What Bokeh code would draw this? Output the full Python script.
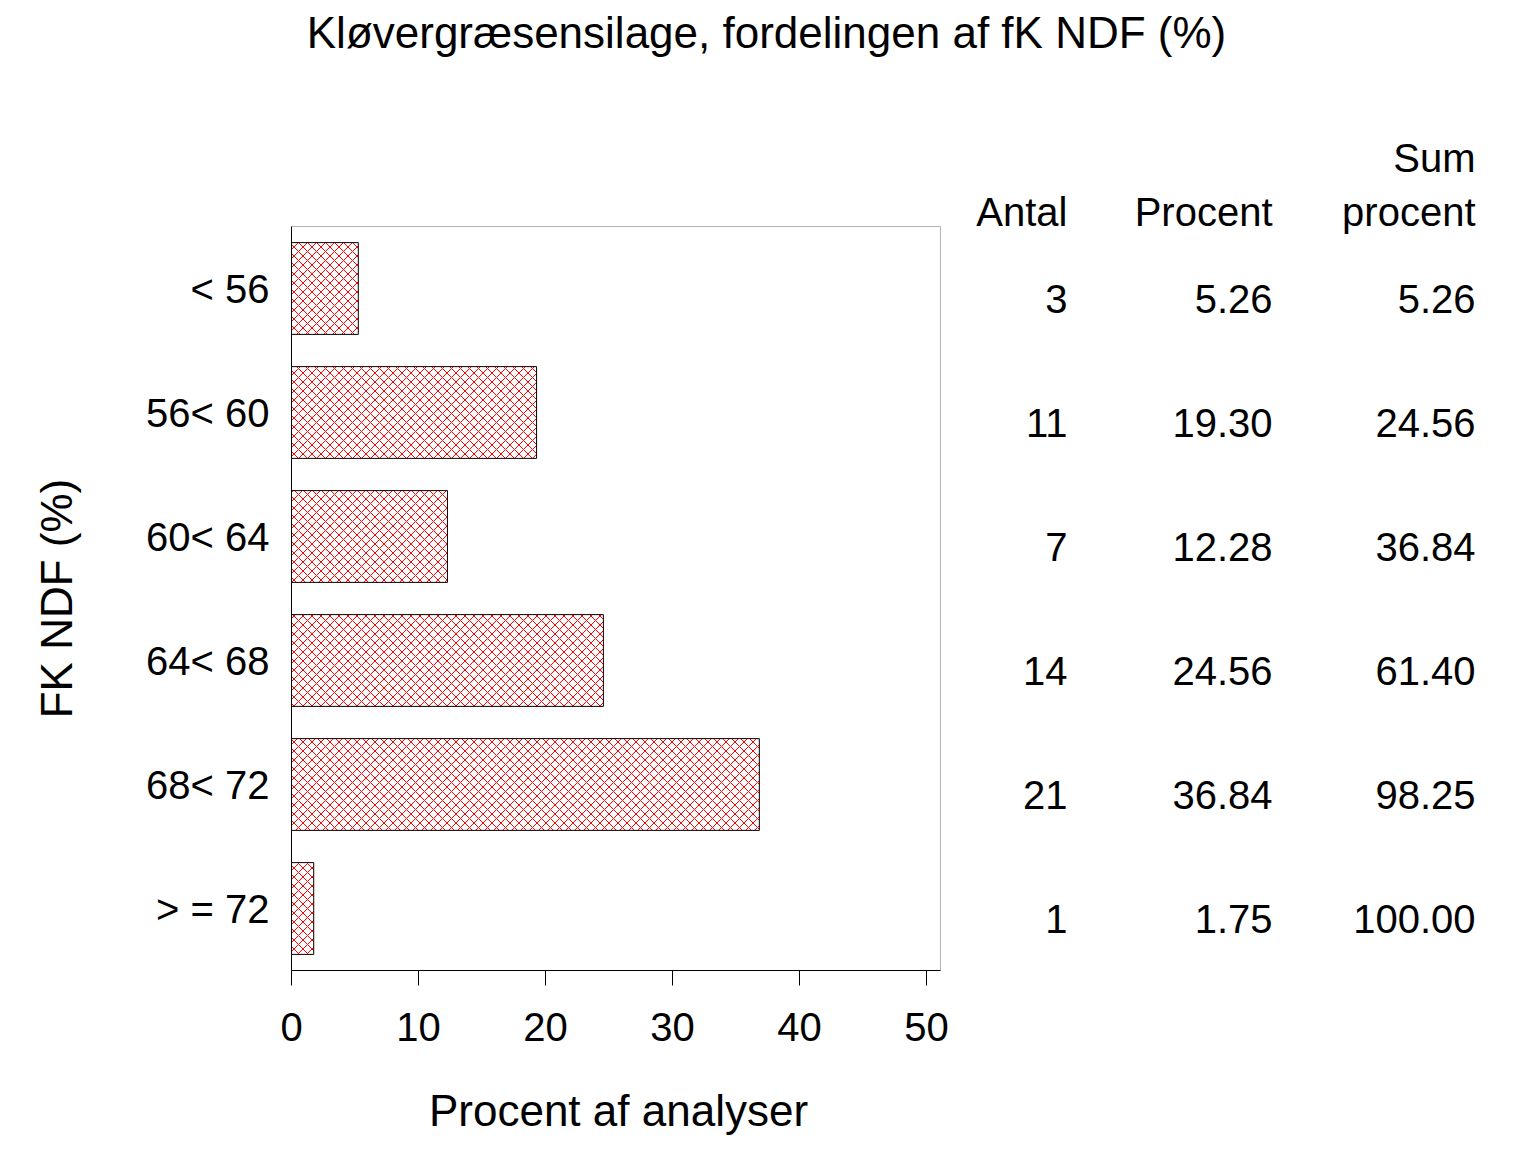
import math
from bokeh.plotting import figure
from bokeh.layouts import row, column
from bokeh.models import Range1d, FixedTicker, BoxAnnotation
from bokeh.embed import file_html
from bokeh.resources import INLINE
from bokeh.core.properties import value

# ---------------- data ----------------
categories = ["< 56", "56< 60", "60< 64", "64< 68", "68< 72", "> = 72"]
antal = [3, 11, 7, 14, 21, 1]
procent = [5.26, 19.30, 12.28, 24.56, 36.84, 1.75]
sum_procent = [5.26, 24.56, 36.84, 61.40, 98.25, 100.00]
x_ticks = [0, 10, 20, 30, 40, 50]
title_text = "Kløvergræsensilage, fordelingen af fK NDF (%)"
x_label = "Procent af analyser"
y_label = "FK NDF (%)"
col_headers = ["Antal", "Procent", "procent"]
col_headers_top = ["", "", "Sum"]

FONT = "Liberation Sans"
BAND_PX = 124.0
FRAME_H = 872
X_BOX_END = 51.1

n = len(categories)
row_pos = [n - 0.5 - i for i in range(n)]   # category band centres (top to bottom)

# ---------------- title strip ----------------
tf = figure(width=1536, height=98, x_range=Range1d(0, 1536), y_range=Range1d(98, 0),
            x_axis_location=None, y_axis_location=None, toolbar_location=None,
            output_backend="svg", min_border=0)
tf.outline_line_color = None
tf.grid.visible = False
tf.text(x=[766], y=[32], text=[title_text], text_font=value(FONT),
        text_font_size="44px", text_align="center", text_baseline="alphabetic",
        text_color="black")

yr = Range1d(0, FRAME_H / BAND_PX)

# ---------------- y-axis title strip ----------------
LF_W = 100
lf = figure(width=LF_W, height=1050, x_range=Range1d(0, LF_W), y_range=yr,
            x_axis_location=None, y_axis_location=None, toolbar_location=None,
            output_backend="svg", min_border_left=0, min_border_right=0,
            min_border_top=0, min_border_bottom=178)
lf.outline_line_color = None
lf.grid.visible = False
lf.text(x=[56], y=[n / 2], text=[y_label], angle=math.pi / 2,
        text_font=value(FONT), text_font_size="44px", text_align="center",
        text_baseline="middle", text_color="black")

# ---------------- bar chart ----------------
p = figure(width=950 - LF_W, height=1050, y_range=yr, x_range=Range1d(0, 51.5),
           toolbar_location=None, output_backend="svg",
           min_border_left=291 - LF_W, min_border_right=5, min_border_top=0,
           min_border_bottom=178)
p.outline_line_color = None
p.grid.visible = False

p.hbar(y=row_pos, right=procent, left=0, height=0.74, fill_color="white",
       line_color="black", line_width=1, hatch_pattern="x", hatch_color="red",
       hatch_scale=9, hatch_weight=1)

p.add_layout(BoxAnnotation(left=0, right=X_BOX_END, bottom=0, top=n,
                           fill_color=None, fill_alpha=0, line_color="black",
                           line_width=1, level="overlay"))

p.xaxis.ticker = FixedTicker(ticks=x_ticks)
p.xaxis.minor_tick_line_color = None
p.xaxis.major_tick_out = 15
p.xaxis.major_tick_in = 0
p.xaxis.major_tick_line_color = "black"
p.xaxis.axis_line_color = "black"
p.xaxis.bounds = (0, X_BOX_END)
p.xaxis.major_label_standoff = 27
p.xaxis.axis_label = x_label
p.xaxis.axis_label_standoff = 42
p.xaxis.axis_label_text_font = FONT
p.xaxis.axis_label_text_font_size = "44px"
p.xaxis.axis_label_text_font_style = "normal"
p.xaxis.axis_label_text_color = "black"

p.yaxis.ticker = FixedTicker(ticks=row_pos)
p.yaxis.major_label_overrides = {pos: lab for pos, lab in zip(row_pos, categories)}
p.yaxis.minor_tick_line_color = None
p.yaxis.major_tick_out = 0
p.yaxis.major_tick_in = 0
p.yaxis.axis_line_color = "black"
p.yaxis.bounds = (0, n)
p.yaxis.major_label_standoff = 22

for ax in (p.xaxis[0], p.yaxis[0]):
    ax.major_label_text_font = FONT
    ax.major_label_text_font_size = "40px"
    ax.major_label_text_color = "black"

# ---------------- table ----------------
t = figure(width=586, height=1050, x_range=Range1d(950, 1536), y_range=yr,
           x_axis_location=None, y_axis_location=None, toolbar_location=None,
           output_backend="svg", min_border_left=0, min_border_right=0,
           min_border_top=0, min_border_bottom=178)
t.outline_line_color = None
t.grid.visible = False

col_right = [1067, 1272, 1475]
columns = [[str(a) for a in antal],
           [f"{v:.2f}" for v in procent],
           [f"{v:.2f}" for v in sum_procent]]
VAL_OFF = 10
for xr, vals in zip(col_right, columns):
    t.text(x=[xr] * n, y=row_pos, text=vals, text_font=value(FONT),
           text_font_size="40px", text_align="right", text_baseline="alphabetic",
           text_color="black", y_offset=VAL_OFF)

top_row = row_pos[0]
t.text(x=col_right, y=[top_row + 87 / BAND_PX] * 3, text=col_headers,
       text_font=value(FONT), text_font_size="40px", text_align="right",
       text_baseline="alphabetic", text_color="black", y_offset=VAL_OFF)
t.text(x=col_right, y=[top_row + 141 / BAND_PX] * 3, text=col_headers_top,
       text_font=value(FONT), text_font_size="40px", text_align="right",
       text_baseline="alphabetic", text_color="black", y_offset=VAL_OFF)

layout = column(tf, row(lf, p, t))
open("out.html", "w").write(file_html(layout, INLINE))
